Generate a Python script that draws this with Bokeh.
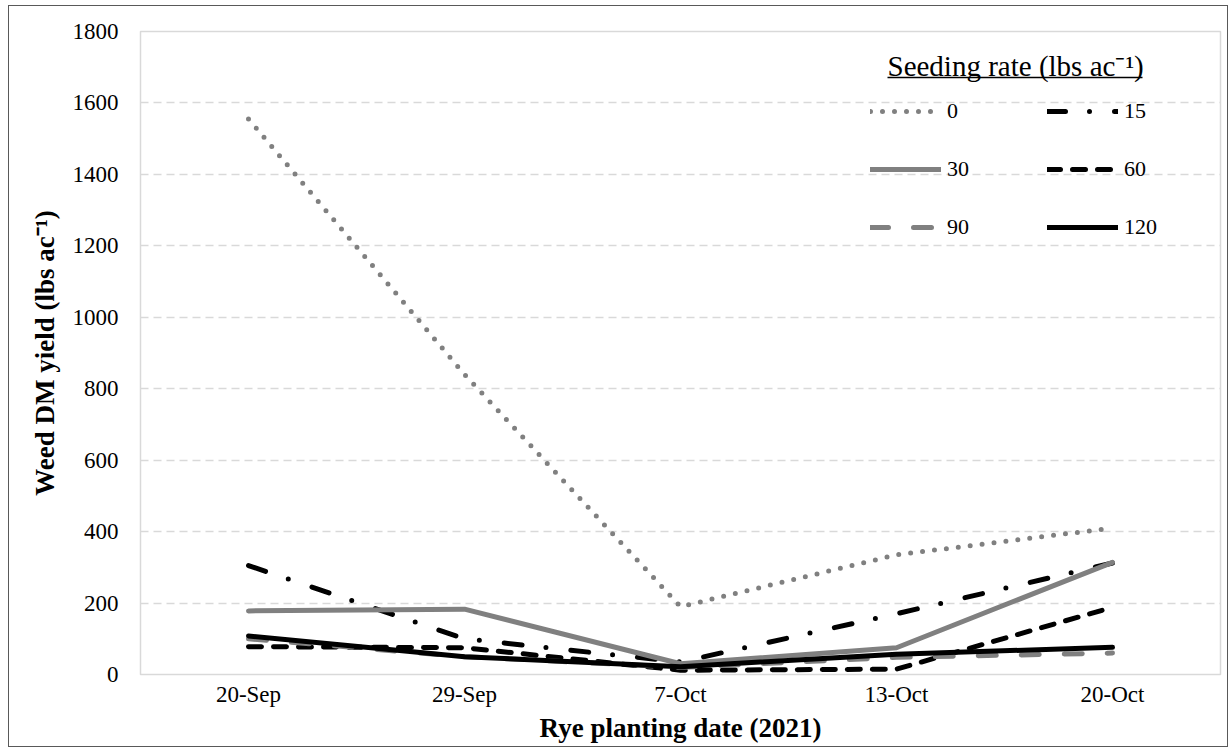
from bokeh.plotting import figure
from bokeh.models import Range1d, SingleIntervalTicker, Legend, LegendItem, Label, BoxAnnotation
from bokeh.embed import file_html
from bokeh.resources import INLINE

dates = ["20-Sep", "29-Sep", "7-Oct", "13-Oct", "20-Oct"]
rates = ["0", "15", "30", "60", "90", "120"]
r0 = [1555, 840, 190, 335, 410]
r15 = [305, 100, 35, 170, 312]
r30 = [178, 183, 30, 75, 314]
r60 = [78, 75, 12, 15, 188]
r90 = [100, 50, 20, 48, 60]
r120 = [108, 50, 22, 57, 76]
series = [r0, r15, r30, r60, r90, r120]

GRAY = "#808080"
styles_ = [
    dict(color=GRAY, dash="0 12"),
    dict(color="black", dash="18 24 0 25"),
    dict(color=GRAY, dash="solid"),
    dict(color="black", dash="13 12"),
    dict(color=GRAY, dash="18 25"),
    dict(color="black", dash="solid"),
]

FONT = "Liberation Serif"

p = figure(x_range=dates, y_range=Range1d(0, 1800), width=1220, height=742,
           output_backend="svg", toolbar_location=None,
           min_border_left=131, min_border_top=25, min_border_right=9, min_border_bottom=74,
           styles={"border": "1px solid #595959", "margin-left": "8px", "margin-top": "5px"})

p.outline_line_color = "#d9d9d9"
p.outline_line_width = 1.5
p.xgrid.grid_line_color = None
p.ygrid.grid_line_color = "#d9d9d9"
p.ygrid.grid_line_width = 1.5
p.ygrid.grid_line_dash = "8 5"

p.yaxis.ticker = SingleIntervalTicker(interval=200)
for ax in (p.xaxis[0], p.yaxis[0]):
    ax.axis_line_color = None
    ax.major_tick_line_color = None
    ax.minor_tick_line_color = None
    ax.major_tick_out = 0
    ax.major_tick_in = 0
    ax.minor_tick_out = 0
    ax.major_label_text_font = FONT
    ax.major_label_text_font_size = "23px"
    ax.major_label_text_color = "black"
    ax.axis_label_text_font = FONT
    ax.axis_label_text_font_style = "bold"
    ax.axis_label_text_font_size = "27px"
    ax.axis_label_text_color = "black"

p.xaxis.axis_label = "Rye planting date (2021)"
p.xaxis.major_label_standoff = 7
p.xaxis.axis_label_standoff = 3
p.yaxis.axis_label = "Weed DM yield (lbs ac\u207b\u00b9)"
p.yaxis.major_label_standoff = 22
p.yaxis.axis_label_standoff = 10

items = []
for name, vals, st in zip(rates, series, styles_):
    r = p.line(dates, vals, line_color=st["color"], line_width=5, line_dash=st["dash"],
               line_cap="round", line_join="round")
    items.append(LegendItem(label=name, renderers=[r]))

legend = Legend(items=items, orientation="horizontal", ncols=2,
                location=(730, 434), glyph_width=71, glyph_height=26,
                label_height=26, label_width=68, label_standoff=6, spacing=32,
                padding=0, margin=0, border_line_color=None, background_fill_alpha=0,
                label_text_font=FONT, label_text_font_size="22px", label_text_color="black",
                label_text_baseline="middle")
p.add_layout(legend, "center")

title = Label(x=747, y=609, x_units="screen", y_units="screen",
              text="Seeding rate (lbs ac\u207b\u00b9)", text_font=FONT, text_font_size="29px",
              text_color="black", text_baseline="alphabetic")
p.add_layout(title)
underline = BoxAnnotation(left=747, right=1002, bottom=596.2, top=597.7,
                          left_units="screen", right_units="screen",
                          bottom_units="screen", top_units="screen",
                          fill_color="black", fill_alpha=1, line_color=None)
p.add_layout(underline)

open("out.html", "w").write(file_html(p, INLINE))
